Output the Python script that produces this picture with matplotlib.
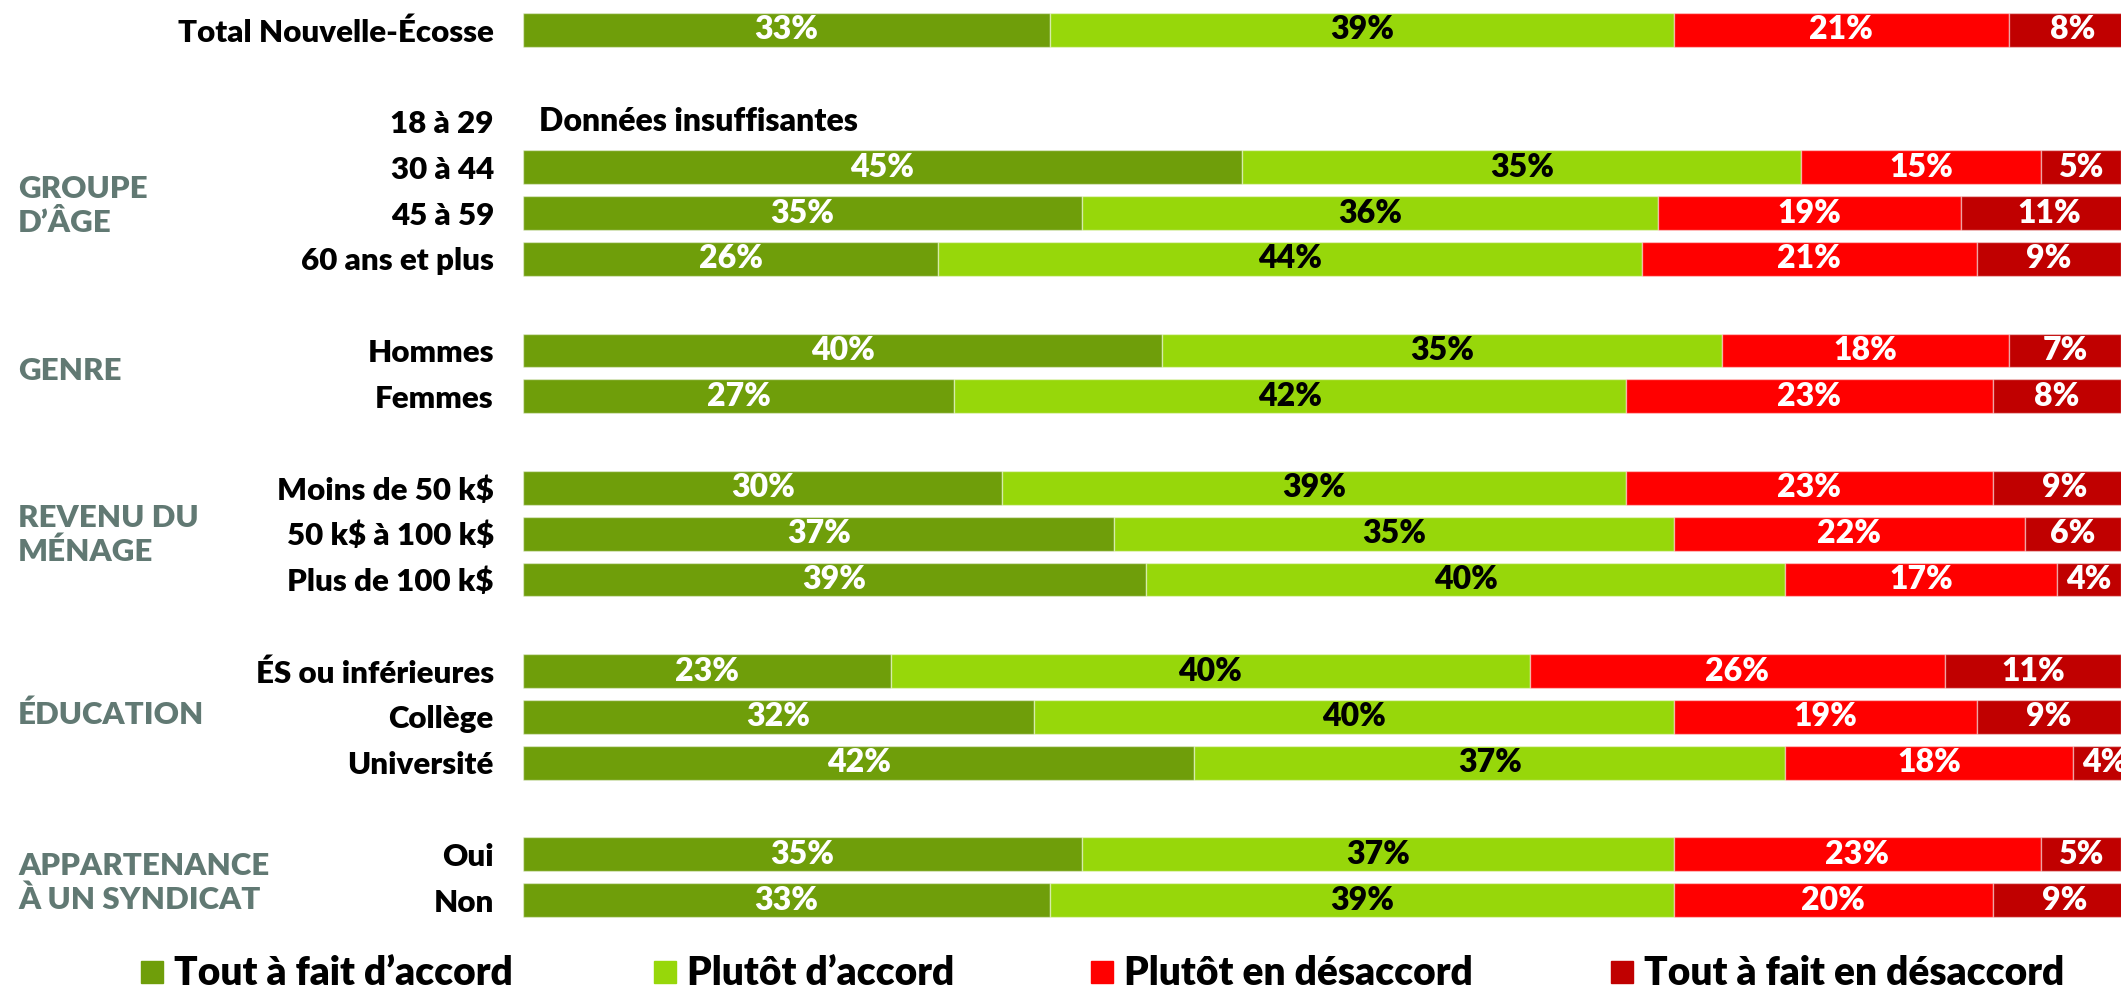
import matplotlib
matplotlib.use("Agg")
from matplotlib import pyplot as plt
from matplotlib.patches import Rectangle

plt.rcParams['font.family'] = ['Lato', 'DejaVu Sans']

# Données du graphique
groups = ["", "GROUPE\nD’ÂGE", "GENRE", "REVENU DU\nMÉNAGE", "ÉDUCATION",
          "APPARTENANCE\nÀ UN SYNDICAT"]
group_rows = [
    ["Total Nouvelle-Écosse"],
    ["18 à 29", "30 à 44", "45 à 59", "60 ans et plus"],
    ["Hommes", "Femmes"],
    ["Moins de 50 k$", "50 k$ à 100 k$", "Plus de 100 k$"],
    ["ÉS ou inférieures", "Collège", "Université"],
    ["Oui", "Non"],
]
tout_accord = [33, None, 45, 35, 26, 40, 27, 30, 37, 39, 23, 32, 42, 35, 33]
plutot_accord = [39, None, 35, 36, 44, 35, 42, 39, 35, 40, 40, 40, 37, 37, 39]
plutot_desaccord = [21, None, 15, 19, 21, 18, 23, 23, 22, 17, 26, 19, 18, 23, 20]
tout_desaccord = [8, None, 5, 11, 9, 7, 8, 9, 6, 4, 11, 9, 4, 5, 9]
series_names = ["Tout à fait d’accord", "Plutôt d’accord",
                "Plutôt en désaccord", "Tout à fait en désaccord"]
colors = ["#6f9e0a", "#97d70a", "#ff0000", "#c00000"]
text_colors = ["white", "black", "white", "white"]

# positions des lignes (une ligne vide entre les groupes)
labels, ypos, group_centers = [], [], []
y = 0
for rows in group_rows:
    start = y
    for r in rows:
        labels.append(r)
        ypos.append(y)
        y += 1
    group_centers.append((start + y - 1) / 2)
    y += 1
# petit décalage manuel des titres de groupe, comme dans l'original
group_shift = [0, 0.35, -0.05, 0.03, -0.05, 0.13]

fig = plt.figure(figsize=(21.21, 9.88), dpi=100)
ax = fig.add_axes([523 / 2121, 1 - 922.9 / 988, 1 - 523 / 2121, 915.8 / 988])

series = [tout_accord, plutot_accord, plutot_desaccord, tout_desaccord]
for i, lab in enumerate(labels):
    left = 0
    if series[0][i] is None:
        ax.text(1, ypos[i], "Données insuffisantes", ha="left", va="center",
                fontsize=23, fontweight="heavy")
        continue
    for s, vals in enumerate(series):
        v = vals[i]
        ax.barh(ypos[i], v, left=left, height=0.74, color=colors[s],
                edgecolor=(1, 1, 1, 0.45), linewidth=1.0)
        ax.text(left + v / 2, ypos[i], f"{v}%", ha="center", va="center",
                fontsize=23, fontweight="heavy", color=text_colors[s])
        left += v

ax.set_xlim(0, 100)
ax.set_ylim(19.5, -0.5)
ax.set_yticks(ypos)
ax.set_yticklabels([l.replace("$", r"\$") for l in labels],
                   fontsize=22.5, fontweight="heavy")
ax.tick_params(axis="y", length=0, pad=21)
ax.set_xticks([])
for sp in ax.spines.values():
    sp.set_visible(False)

# étiquettes des groupes
for g, c, d in zip(groups, group_centers, group_shift):
    if g:
        yc = ax.transData.transform((0, c + d))[1]
        fig.text(18 / 2121, yc / fig.dpi / fig.get_figheight(), g,
                 ha="left", va="center", fontsize=22.5, fontweight="heavy",
                 color="#617973", linespacing=1.25)

# légende
legend_x = [141, 654, 1091, 1611]
for x, name, col in zip(legend_x, series_names, colors):
    fig.patches.append(Rectangle((x / 2121, 1 - 983 / 988), 22 / 2121, 22 / 988,
                                 transform=fig.transFigure, color=col))
    fig.text((x + 33) / 2121, 1 - 973 / 988, name, ha="left", va="center",
             fontsize=28, fontweight="heavy")

fig.savefig("out.png", dpi=100)
